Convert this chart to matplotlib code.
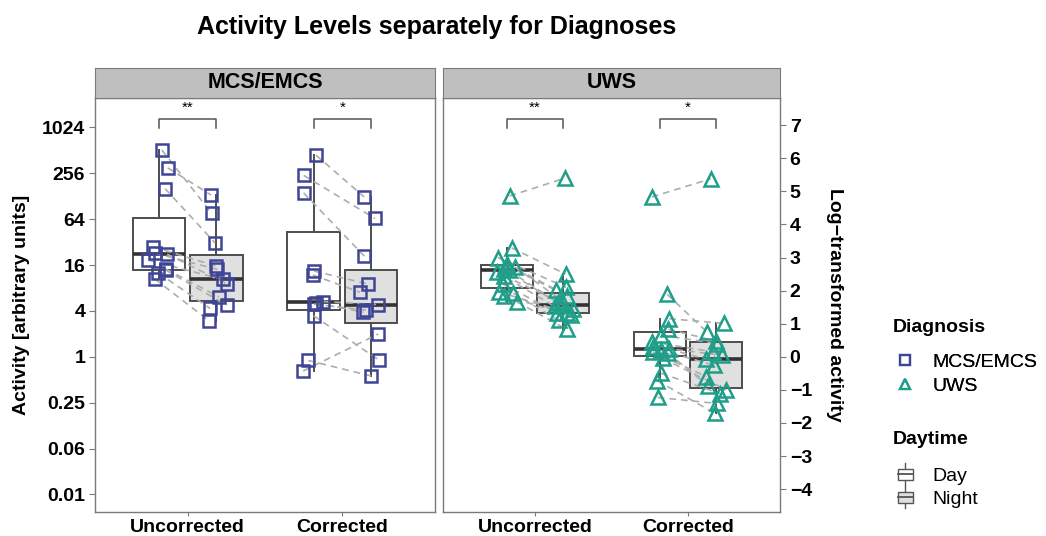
import matplotlib.pyplot as plt
import numpy as np
from matplotlib.lines import Line2D
from matplotlib.patches import Rectangle
from matplotlib.legend_handler import HandlerBase

plt.rcParams['font.family'] = ['Liberation Sans', 'DejaVu Sans']

# log-transformed activity per subject, day and night paired by index
mcs_unc_day = [6.25, 5.71, 5.08, 3.32, 3.13, 3.10, 2.92, 2.65, 2.62, 2.53, 2.35]
mcs_unc_night = [4.34, 4.89, 3.44, 2.74, 2.64, 2.20, 2.34, 1.81, 1.56, 1.46, 1.09]
mcs_cor_day = [6.09, 5.48, 4.95, 2.59, 2.47, 1.67, 1.62, 1.59, 1.24, -0.11, -0.43]
mcs_cor_night = [4.83, 4.18, 3.04, 2.20, 1.95, 1.58, 1.35, 1.41, -0.10, -0.58, 0.69]

uws_unc_day = [4.86, 3.29, 3.00, 2.81, 2.75, 2.72, 2.66, 2.61, 2.55, 2.45, 2.20, 1.96, 1.92, 1.84, 1.66]
uws_unc_night = [5.40, 2.50, 2.10, 1.85, 2.01, 1.70, 1.62, 1.57, 1.52, 1.45, 1.33, 1.33, 1.10, 1.25, 0.83]
uws_cor_day = [4.83, 1.89, 1.15, 0.83, 0.65, 0.45, 0.30, 0.23, 0.20, 0.15, 0.11, -0.05, -0.50, -0.72, -1.23]
uws_cor_night = [5.38, 0.76, 1.01, 0.48, 0.40, 0.15, 0.05, -0.07, -0.25, -0.60, -0.88, -1.00, -1.11, -1.71, -1.41]

diagnoses = ['MCS/EMCS', 'UWS']
conditions = ['Uncorrected', 'Corrected']
daytimes = ['Day', 'Night']
significance = {'MCS/EMCS': ['**', '*'], 'UWS': ['**', '*']}
left_ticks = [-3, -2, -1, 0, 1, 2, 3, 4, 5]  # powers of four
left_labels = ['0.01', '0.06', '0.25', '1', '4', '16', '64', '256', '1024']
right_ticks = list(range(-4, 8))

panel_data = {
    'MCS/EMCS': [(mcs_unc_day, mcs_unc_night), (mcs_cor_day, mcs_cor_night)],
    'UWS': [(uws_unc_day, uws_unc_night), (uws_cor_day, uws_cor_night)],
}
colors = {'MCS/EMCS': '#3F4595', 'UWS': '#1F9E89'}
markers = {'MCS/EMCS': 's', 'UWS': '^'}
msizes = {'MCS/EMCS': 8, 'UWS': 9.5}

box_edge = '#4D4D4D'
night_fill = '#E0E0E0'
dodge = 0.185
box_w = 0.34

W, H = 1046, 536
fig = plt.figure(figsize=(W / 100, H / 100), dpi=100)


def frac(x0, y0, x1, y1):
    return [x0 / W, 1 - y1 / H, (x1 - x0) / W, (y1 - y0) / H]


rng = np.random.default_rng(7)
axes = []
for i, diag in enumerate(diagnoses):
    x0, x1 = (95, 435) if i == 0 else (443, 780)
    ax = fig.add_axes(frac(x0, 98, x1, 512))
    axes.append(ax)

    for g, (day, night) in enumerate(panel_data[diag], start=1):
        pos = [g - dodge, g + dodge]
        bp = ax.boxplot([day, night], positions=pos, widths=box_w, patch_artist=True,
                        showfliers=False, showcaps=False, whis=1.5,
                        boxprops=dict(edgecolor=box_edge, linewidth=1.4),
                        whiskerprops=dict(color=box_edge, linewidth=1.4),
                        medianprops=dict(color='#333333', linewidth=2.6))
        bp['boxes'][0].set_facecolor('white')
        bp['boxes'][1].set_facecolor(night_fill)
        for art in bp['boxes'] + bp['whiskers'] + bp['medians']:
            art.set_zorder(1)

        n = len(day)
        xd = pos[0] + rng.uniform(-0.07, 0.07, n)
        xn = pos[1] + rng.uniform(-0.07, 0.07, n)
        for a, b, c, d in zip(xd, xn, day, night):
            ax.plot([a, b], [c, d], color='#ADADAD', lw=1.2, ls=(0, (4, 3)), zorder=2)
        for xs, ys in ((xd, day), (xn, night)):
            ax.plot(xs, ys, ls='none', marker=markers[diag], ms=msizes[diag],
                    mfc='none', mec=colors[diag], mew=1.8, zorder=3)

        # significance bracket
        ax.plot([pos[0], pos[0], pos[1], pos[1]], [6.92, 7.2, 7.2, 6.92],
                color='#555555', lw=1.1, zorder=2)
        ax.text(g, 7.3, significance[diag][g - 1], ha='center', va='bottom', fontsize=11)

    ax.set_xlim(0.4, 2.6)
    ax.set_ylim(-4.69, 7.82)
    ax.set_xticks([1, 2])
    ax.set_xticklabels(conditions, fontsize=14, fontweight='bold')
    for s in ax.spines.values():
        s.set_color('#7A7A7A')
        s.set_linewidth(1.0)
    ax.tick_params(axis='x', length=3, color='#7A7A7A', pad=2)

    # facet strip
    strip = fig.add_axes(frac(x0, 68, x1, 98))
    strip.set_facecolor('#BFBFBF')
    strip.set_xticks([])
    strip.set_yticks([])
    for s in strip.spines.values():
        s.set_color('#7A7A7A')
    strip.text(0.5, 0.5, diag, ha='center', va='center', fontsize=15.5,
               fontweight='bold', transform=strip.transAxes)

# left axis: powers of four on the natural log scale
left = axes[0]
left.set_yticks(np.log(4.0 ** np.array(left_ticks)))
left.set_yticklabels(left_labels, fontsize=14, fontweight='bold')
left.tick_params(axis='y', length=4, color='#7A7A7A', pad=3)
left.set_ylabel('Activity [arbitrary units]', fontsize=14, fontweight='bold', labelpad=9)

right = axes[1]
right.yaxis.tick_right()
right.yaxis.set_label_position('right')
right.set_yticks(right_ticks)
right.set_yticklabels([str(t).replace('-', '\u2212') for t in right_ticks],
                      fontsize=14, fontweight='bold')
right.tick_params(axis='y', length=4, color='#7A7A7A', pad=3)
right.set_ylabel('Log\u2212transformed activity', fontsize=14, fontweight='bold',
                 rotation=270, labelpad=22)

fig.text(437 / W, 1 - 27 / H, 'Activity Levels separately for Diagnoses',
         ha='center', va='center', fontsize=18, fontweight='bold')


class BoxGlyph(HandlerBase):
    def __init__(self, face):
        super().__init__()
        self.face = face

    def create_artists(self, legend, orig_handle, xdescent, ydescent, width,
                       height, fontsize, trans):
        cx = width / 2 - xdescent
        cy = height / 2 - ydescent
        bw, bh = 11, 8
        rect = Rectangle((cx - bw / 2, cy - bh / 2), bw, bh, facecolor=self.face,
                         edgecolor='#555555', lw=1.0, transform=trans)
        wh = Line2D([cx, cx], [cy - bh / 2 - 4, cy + bh / 2 + 4], color='#555555',
                    lw=1.0, transform=trans)
        med = Line2D([cx - bw / 2, cx + bw / 2], [cy, cy], color='#555555',
                     lw=1.3, transform=trans)
        return [wh, rect, med]


# legend titles
fig.text(893 / W, 1 - 327 / H, 'Diagnosis', ha='left', va='center',
         fontsize=14, fontweight='bold')
fig.text(893 / W, 1 - 440 / H, 'Daytime', ha='left', va='center',
         fontsize=14, fontweight='bold')

diag_handles = [Line2D([], [], ls='none', marker=markers[d], ms=7, mfc='none',
                       mec=colors[d], mew=1.6) for d in diagnoses]
leg1 = fig.legend(diag_handles, diagnoses, loc='upper left',
                  bbox_to_anchor=(876 / W, 1 - 336 / H), frameon=False, fontsize=14,
                  handlelength=1.2, handletextpad=0.8, labelspacing=0.33)
fig.add_artist(leg1)

day_h, night_h = Rectangle((0, 0), 1, 1), Rectangle((0, 0), 1, 1)
fig.legend([day_h, night_h], daytimes, loc='upper left',
           bbox_to_anchor=(876 / W, 1 - 450 / H), frameon=False, fontsize=14,
           handlelength=1.2, handletextpad=0.8, labelspacing=0.28,
           handler_map={day_h: BoxGlyph('white'), night_h: BoxGlyph(night_fill)})

fig.savefig('out.png', dpi=100)
